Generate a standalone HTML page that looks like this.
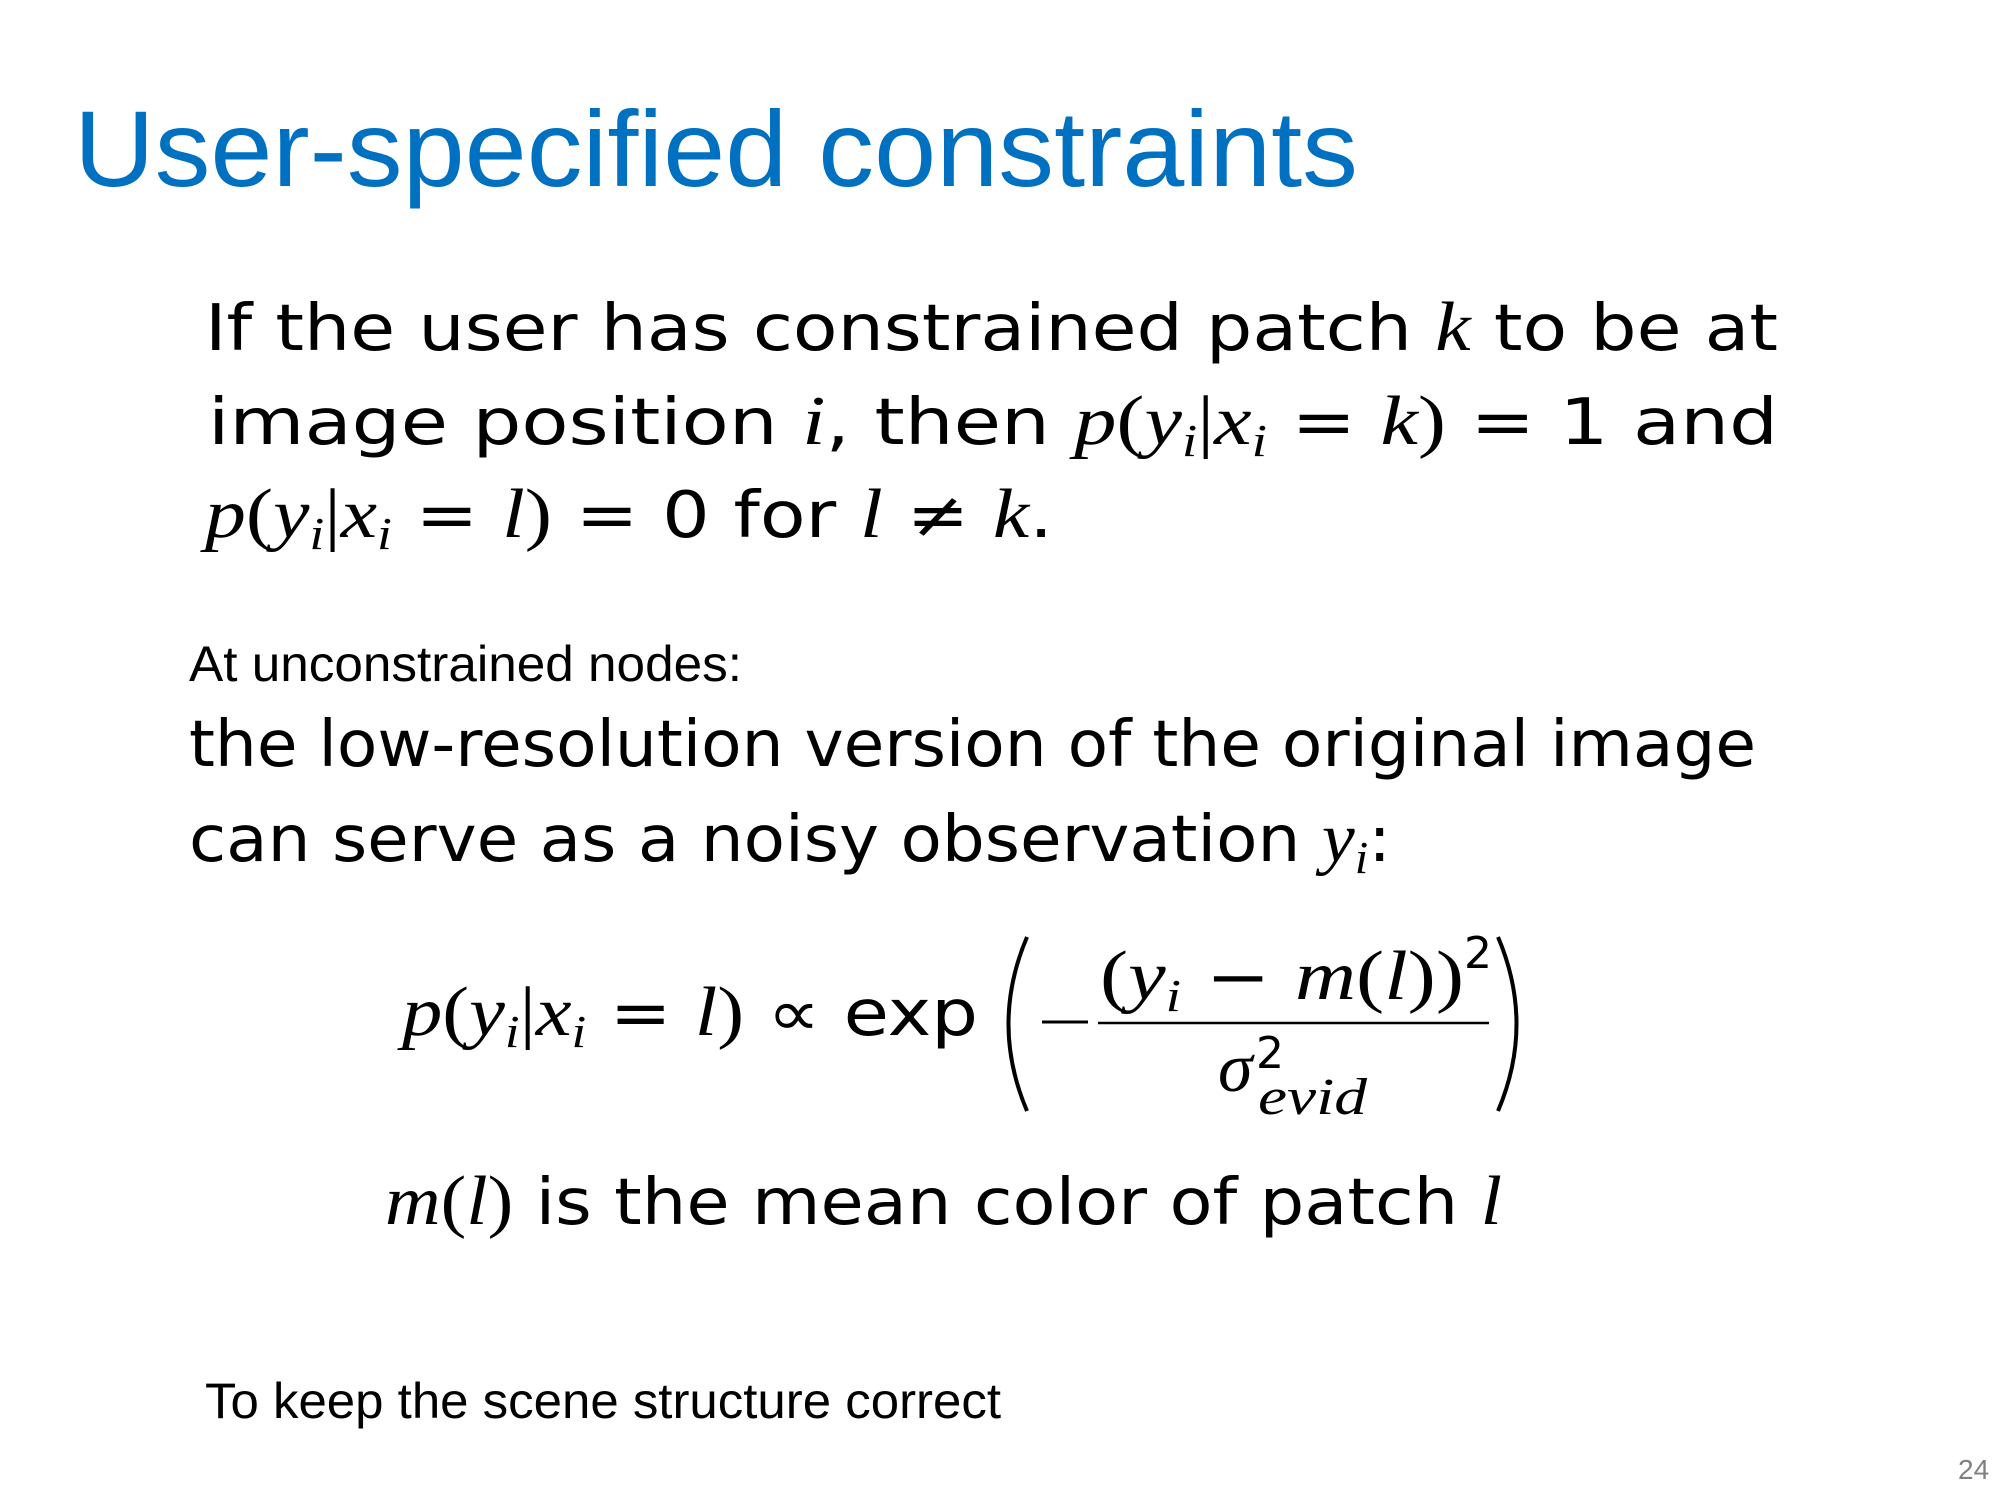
<!DOCTYPE html>
<html><head><meta charset="utf-8"><style>
html,body{margin:0;padding:0;background:#fff;}
svg{display:block;}
.s{font-family:"DejaVu Sans",sans-serif;fill:#000;}
.m{font-family:"Liberation Serif",serif;font-style:italic;}
.r{font-family:"Liberation Serif",serif;font-style:normal;}
.c{font-family:"Liberation Sans",sans-serif;fill:#000;}
</style></head><body>
<svg width="2000" height="1500" viewBox="0 0 2000 1500" xmlns="http://www.w3.org/2000/svg">
<rect width="2000" height="1500" fill="#fff"/>
<text x="74" y="186" font-family="Liberation Sans, sans-serif" font-size="108" fill="#0070C0" textLength="1284" lengthAdjust="spacingAndGlyphs">User-specified constraints</text>

<text class="s" x="205" y="350" font-size="64" textLength="1573" lengthAdjust="spacingAndGlyphs">If the user has constrained patch <tspan class="m" font-size="70">k</tspan> to be at</text>
<text class="s" x="208" y="444" font-size="64" textLength="1570" lengthAdjust="spacingAndGlyphs">image position <tspan class="m" font-size="70">i</tspan>, then <tspan class="m" font-size="70">p</tspan><tspan class="r" font-size="70">(</tspan><tspan class="m" font-size="70">y</tspan><tspan class="m" font-size="46" dy="12">i</tspan><tspan class="r" font-size="70" dy="-12">|</tspan><tspan class="m" font-size="70">x</tspan><tspan class="m" font-size="46" dy="12">i</tspan><tspan dy="-12"> = </tspan><tspan class="m" font-size="70">k</tspan><tspan class="r" font-size="70">)</tspan> = 1 and</text>
<text class="s" x="205" y="537" font-size="64" textLength="848" lengthAdjust="spacingAndGlyphs"><tspan class="m" font-size="70">p</tspan><tspan class="r" font-size="70">(</tspan><tspan class="m" font-size="70">y</tspan><tspan class="m" font-size="46" dy="12">i</tspan><tspan class="r" font-size="70" dy="-12">|</tspan><tspan class="m" font-size="70">x</tspan><tspan class="m" font-size="46" dy="12">i</tspan><tspan dy="-12"> = </tspan><tspan class="m" font-size="70">l</tspan><tspan class="r" font-size="70">)</tspan> = 0 for <tspan class="m" font-size="70">l</tspan> ≠ <tspan class="m" font-size="70">k</tspan>.</text>

<text class="c" x="189" y="681" font-size="50" textLength="553" lengthAdjust="spacingAndGlyphs">At unconstrained nodes:</text>
<text class="s" x="189" y="766" font-size="64" textLength="1567" lengthAdjust="spacingAndGlyphs">the low-resolution version of the original image</text>
<text class="s" x="189" y="861" font-size="64" textLength="1202" lengthAdjust="spacingAndGlyphs">can serve as a noisy observation <tspan class="m" font-size="70">y</tspan><tspan class="m" font-size="46" dy="12">i</tspan><tspan dy="-12">:</tspan></text>

<text class="s" x="402" y="1035" font-size="64" textLength="576" lengthAdjust="spacingAndGlyphs"><tspan class="m" font-size="70">p</tspan><tspan class="r" font-size="70">(</tspan><tspan class="m" font-size="70">y</tspan><tspan class="m" font-size="46" dy="12">i</tspan><tspan class="r" font-size="70" dy="-12">|</tspan><tspan class="m" font-size="70">x</tspan><tspan class="m" font-size="46" dy="12">i</tspan><tspan dy="-12"> = </tspan><tspan class="m" font-size="70">l</tspan><tspan class="r" font-size="70">)</tspan> ∝ exp</text>
<path d="M1027 937 Q990 1024 1027 1111" fill="none" stroke="#000" stroke-width="4"/>
<path d="M1498 937 Q1535 1024 1498 1111" fill="none" stroke="#000" stroke-width="4"/>
<line x1="1042" y1="1022" x2="1088" y2="1022" stroke="#000" stroke-width="3"/>
<line x1="1098" y1="1023" x2="1489" y2="1023" stroke="#000" stroke-width="2.5"/>
<text class="s" x="1100" y="999" font-size="64" textLength="364" lengthAdjust="spacingAndGlyphs"><tspan class="r" font-size="70">(</tspan><tspan class="m" font-size="70">y</tspan><tspan class="m" font-size="46" dy="12">i</tspan><tspan dy="-12"> − </tspan><tspan class="m" font-size="70">m</tspan><tspan class="r" font-size="70">(</tspan><tspan class="m" font-size="70">l</tspan><tspan class="r" font-size="70">))</tspan></text>
<text class="s" x="1464" y="968" font-size="44">2</text>
<text class="m" x="1218" y="1091" font-size="70">σ</text>
<text class="s" x="1256" y="1068" font-size="44">2</text>
<text class="m" x="1258" y="1114" font-size="52" textLength="109" lengthAdjust="spacingAndGlyphs">evid</text>

<text class="s" x="385" y="1224" font-size="64" textLength="1117" lengthAdjust="spacingAndGlyphs"><tspan class="m" font-size="70">m</tspan><tspan class="r" font-size="70">(</tspan><tspan class="m" font-size="70">l</tspan><tspan class="r" font-size="70">)</tspan> is the mean color of patch <tspan class="m" font-size="70">l</tspan></text>

<text class="c" x="205" y="1418" font-size="50" textLength="796" lengthAdjust="spacingAndGlyphs">To keep the scene structure correct</text>
<text x="1958" y="1479" font-family="Liberation Sans, sans-serif" font-size="28" fill="#7f7f7f">24</text>
</svg>
</body></html>
